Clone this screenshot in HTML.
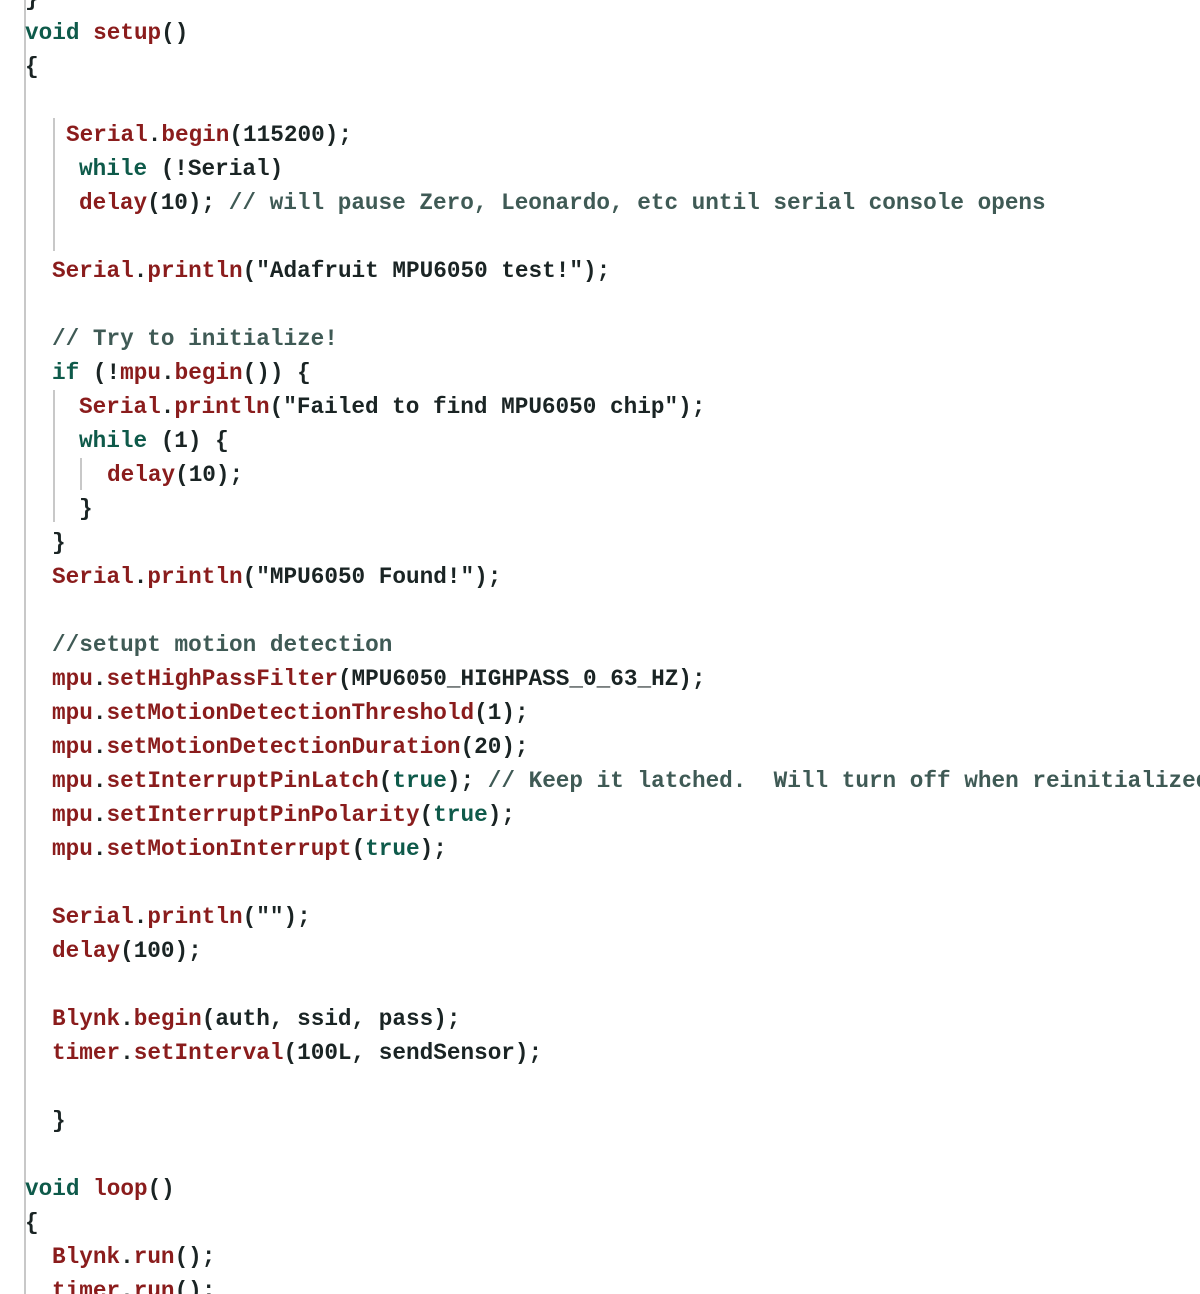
<!DOCTYPE html>
<html><head><style>
html,body{margin:0;padding:0;background:#fff;width:1200px;height:1294px;overflow:hidden;position:relative}
.l{position:absolute;font-family:"Liberation Mono",monospace;font-size:22.7px;line-height:34px;white-space:pre;color:#1a2424;font-weight:bold;margin-top:2px}
.k{color:#0e5a4a}.f{color:#8a1c1c}.c{color:#3f5a55}
.v{position:absolute;background:#c8c8c8;width:2px}
</style></head><body>
<div class="v" style="left:24px;top:0;height:1294px"></div>
<div class="v" style="left:53px;top:118px;height:133px"></div>
<div class="v" style="left:53px;top:390px;height:132px"></div>
<div class="v" style="left:80px;top:458px;height:32px"></div>
<div class="l" style="left:25px;top:-20px">}</div>
<div class="l" style="left:25px;top:14px"><span class="k">void</span> <span class="f">setup</span>()</div>
<div class="l" style="left:25px;top:48px">{</div>
<div class="l" style="left:66px;top:116px"><span class="f">Serial</span>.<span class="f">begin</span>(115200);</div>
<div class="l" style="left:79px;top:150px"><span class="k">while</span> (!Serial)</div>
<div class="l" style="left:79px;top:184px"><span class="f">delay</span>(10); <span class="c">// will pause Zero, Leonardo, etc until serial console opens</span></div>
<div class="l" style="left:52px;top:252px"><span class="f">Serial</span>.<span class="f">println</span>("Adafruit MPU6050 test!");</div>
<div class="l" style="left:52px;top:320px"><span class="c">// Try to initialize!</span></div>
<div class="l" style="left:52px;top:354px"><span class="k">if</span> (!<span class="f">mpu</span>.<span class="f">begin</span>()) {</div>
<div class="l" style="left:79px;top:388px"><span class="f">Serial</span>.<span class="f">println</span>("Failed to find MPU6050 chip");</div>
<div class="l" style="left:79px;top:422px"><span class="k">while</span> (1) {</div>
<div class="l" style="left:107px;top:456px"><span class="f">delay</span>(10);</div>
<div class="l" style="left:79px;top:490px">}</div>
<div class="l" style="left:52px;top:524px">}</div>
<div class="l" style="left:52px;top:558px"><span class="f">Serial</span>.<span class="f">println</span>("MPU6050 Found!");</div>
<div class="l" style="left:52px;top:626px"><span class="c">//setupt motion detection</span></div>
<div class="l" style="left:52px;top:660px"><span class="f">mpu</span>.<span class="f">setHighPassFilter</span>(MPU6050_HIGHPASS_0_63_HZ);</div>
<div class="l" style="left:52px;top:694px"><span class="f">mpu</span>.<span class="f">setMotionDetectionThreshold</span>(1);</div>
<div class="l" style="left:52px;top:728px"><span class="f">mpu</span>.<span class="f">setMotionDetectionDuration</span>(20);</div>
<div class="l" style="left:52px;top:762px"><span class="f">mpu</span>.<span class="f">setInterruptPinLatch</span>(<span class="k">true</span>); <span class="c">// Keep it latched.  Will turn off when reinitialized.</span></div>
<div class="l" style="left:52px;top:796px"><span class="f">mpu</span>.<span class="f">setInterruptPinPolarity</span>(<span class="k">true</span>);</div>
<div class="l" style="left:52px;top:830px"><span class="f">mpu</span>.<span class="f">setMotionInterrupt</span>(<span class="k">true</span>);</div>
<div class="l" style="left:52px;top:898px"><span class="f">Serial</span>.<span class="f">println</span>("");</div>
<div class="l" style="left:52px;top:932px"><span class="f">delay</span>(100);</div>
<div class="l" style="left:52px;top:1000px"><span class="f">Blynk</span>.<span class="f">begin</span>(auth, ssid, pass);</div>
<div class="l" style="left:52px;top:1034px"><span class="f">timer</span>.<span class="f">setInterval</span>(100L, sendSensor);</div>
<div class="l" style="left:52px;top:1102px">}</div>
<div class="l" style="left:25px;top:1170px"><span class="k">void</span> <span class="f">loop</span>()</div>
<div class="l" style="left:25px;top:1204px">{</div>
<div class="l" style="left:52px;top:1238px"><span class="f">Blynk</span>.<span class="f">run</span>();</div>
<div class="l" style="left:52px;top:1272px"><span class="f">timer</span>.<span class="f">run</span>();</div>
</body></html>
